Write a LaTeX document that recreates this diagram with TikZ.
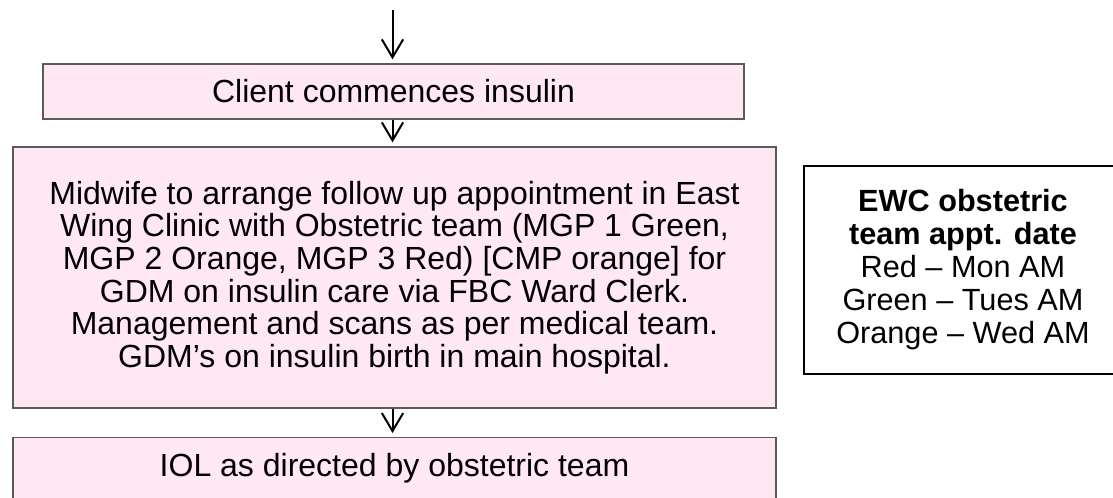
\documentclass[tikz,border=0pt]{standalone}
\usepackage{fontspec}
\setmainfont{Liberation Sans}
\usetikzlibrary{arrows.meta}
\definecolor{boxpink}{RGB}{255,232,244}
\definecolor{boxline}{RGB}{90,90,90}
\begin{document}
\begin{tikzpicture}[x=0.75pt, y=-0.75pt,
  every node/.style={font=\fontsize{24pt}{24.5pt}\selectfont, align=center},
  flowbox/.style={draw=boxline, line width=1pt, fill=boxpink, inner sep=0pt},
  notebox/.style={draw=black, line width=1.5pt, fill=white, inner sep=0pt,
    font=\fontsize{23pt}{24.75pt}\selectfont},
  flowarrow/.style={line width=1.5pt, -{Straight Barb[length=13.5pt, width=16pt, line width=1.5pt]}, shorten >=3pt}
]
\useasboundingbox (0,0) rectangle (1113,497);
\clip (0,0) rectangle (1113,497);

% main flow boxes
\node[flowbox, minimum width=525.75pt, minimum height=41.25pt] (commence) at (393.5,91.5)
  {Client commences insulin};
\node[flowbox, minimum width=572.25pt, minimum height=195.75pt] (midwife) at (394.5,277.5)
  {Midwife to arrange follow up appointment in East\\
   Wing Clinic with Obstetric team (MGP 1 Green,\\
   MGP 2 Orange, MGP 3 Red) [CMP orange] for\\
   GDM on insulin care via FBC Ward Clerk.\\
   Management and scans as per medical team.\\
   GDM’s on insulin birth in main hospital.};
\node[flowbox, minimum width=572.25pt, anchor=north, text height=29pt, text depth=45pt] (iol) at (394.5,437)
  {IOL as directed by obstetric team};

% side note with clinic days
\node[notebox, minimum width=238.5pt, minimum height=156pt] (days) at (963,270)
  {\textbf{EWC obstetric}\\
   \textbf{team appt. date}\\
   Red – Mon AM\\
   Green – Tues AM\\
   Orange – Wed AM};

% connectors
\coordinate (entry) at (392.5,10);
\draw[flowarrow] (entry) -- (entry |- commence.north);
\draw[flowarrow] (entry |- commence.south) -- (entry |- midwife.north);
\draw[flowarrow] (entry |- midwife.south) -- (entry |- iol.north);
\end{tikzpicture}
\end{document}
